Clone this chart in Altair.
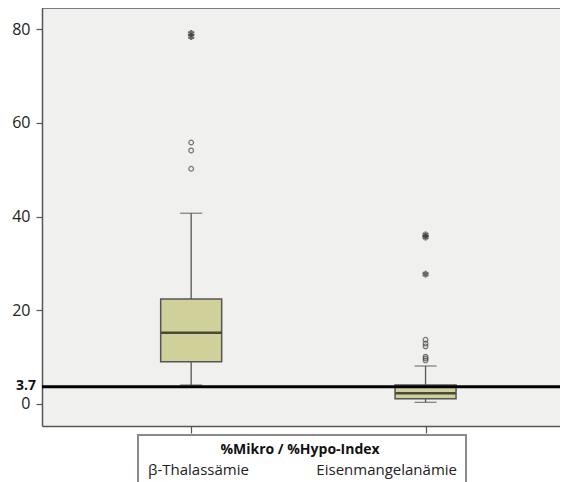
import altair as alt
import pandas as pd

# ---- data ----
groups = ["β-Thalassämie", "Eisenmangelanämie"]
pos = [1, 2]
q1 = [9.0, 1.1]
median = [15.2, 2.3]
q3 = [22.4, 4.05]
whisk_lo = [4.05, 0.35]
whisk_hi = [40.7, 8.1]
outliers_thal = [50.2, 54.1, 55.8]
extremes_thal = [78.4, 79.1]
outliers_eisen = [9.3, 9.7, 10.1, 12.3, 12.9, 13.7]
extremes_eisen = [27.7, 35.6, 36.1]
cutoff = 3.7
legend_title = "%Mikro / %Hypo-Index"
y_ticks = [0, 20, 40, 60, 80]

W, H = 518, 418
FONT = "Open Sans"
BOX_FILL = "#cfd09a"
EDGE = "#555555"

boxes = pd.DataFrame({"group": groups, "pos": pos, "q1": q1, "median": median,
                      "q3": q3, "lo": whisk_lo, "hi": whisk_hi})
outl = pd.DataFrame({
    "pos": [1] * len(outliers_thal) + [2] * len(outliers_eisen),
    "value": outliers_thal + outliers_eisen})
extr = pd.DataFrame({
    "pos": [1] * len(extremes_thal) + [2] * len(extremes_eisen),
    "value": extremes_thal + extremes_eisen})
one = pd.DataFrame({"v": [cutoff]})

xs = alt.Scale(domain=[0.3849, 2.5523], nice=False, zero=False)
ys = alt.Scale(domain=[-4.7, 84.5], nice=False, zero=False)

X = alt.X("pos:Q", scale=xs, axis=alt.Axis(values=[1, 2], labels=False, title=None, grid=False,
                                           tickSize=7, tickColor=EDGE, domainColor=EDGE,
                                           domainWidth=1.5, tickWidth=1.2))
Yaxis = alt.Axis(values=y_ticks, title=None, grid=False, tickSize=6, tickColor=EDGE,
                 domainColor=EDGE, domainWidth=1.5, labelPadding=6, labelFont=FONT,
                 labelFontSize=16, labelColor="#222222", tickWidth=1.2)

base = alt.Chart(boxes)

whisk_low = base.mark_rule(color=EDGE, strokeWidth=1.3).encode(
    x=X, y=alt.Y("lo:Q", scale=ys, axis=Yaxis), y2="q1:Q")
whisk_high = base.mark_rule(color=EDGE, strokeWidth=1.3).encode(
    x=X, y=alt.Y("q3:Q", scale=ys), y2="hi:Q")
cap_low = base.mark_tick(orient="horizontal", size=22, thickness=1.3, color=EDGE).encode(
    x=X, y=alt.Y("lo:Q", scale=ys))
cap_high = base.mark_tick(orient="horizontal", size=22, thickness=1.3, color=EDGE).encode(
    x=X, y=alt.Y("hi:Q", scale=ys))
box = base.mark_bar(size=61, fill=BOX_FILL, stroke=EDGE, strokeWidth=1.5).encode(
    x=X, y=alt.Y("q1:Q", scale=ys), y2="q3:Q")
med = base.mark_tick(orient="horizontal", size=60, thickness=2.5, color="#111111").encode(
    x=X, y=alt.Y("median:Q", scale=ys))

circles = alt.Chart(outl).mark_point(shape="circle", filled=False, size=22, strokeWidth=1.2,
                                     color="#444444").encode(
    x=X, y=alt.Y("value:Q", scale=ys))
stars = alt.Chart(extr).mark_point(
    shape="M0,-1L0,1M-0.87,-0.5L0.87,0.5M-0.87,0.5L0.87,-0.5",
    filled=False, size=45, strokeWidth=2.2, color="#333333").encode(
    x=X, y=alt.Y("value:Q", scale=ys))

ref_line = alt.Chart(one).mark_rule(color="black", strokeWidth=3).encode(
    y=alt.Y("v:Q", scale=ys), x=alt.value(0), x2=alt.value(W + 20))
ref_label = alt.Chart(one).mark_text(text="3.7", font=FONT, fontSize=14, fontWeight="bold",
                                     align="right", baseline="middle", color="#111111", dy=-1).encode(
    y=alt.Y("v:Q", scale=ys), x=alt.value(-6))

top_border = alt.Chart(one).mark_rule(color=EDGE, strokeWidth=1.5).encode(
    y=alt.value(0), x=alt.value(0), x2=alt.value(W + 20))

leg_box = alt.Chart(one).mark_rect(fill="white", stroke="#8a8a8a", strokeWidth=2).encode(
    x=alt.value(96), x2=alt.value(424), y=alt.value(427), y2=alt.value(540))
leg_title = alt.Chart(one).mark_text(text=legend_title, font=FONT, fontSize=14, fontWeight="bold",
                                     align="center", baseline="middle", color="#111111").encode(
    x=alt.value(258), y=alt.value(442))
leg_a = alt.Chart(one).mark_text(text=groups[0], font=FONT, fontSize=15, align="left",
                                 baseline="middle", color="#222222").encode(
    x=alt.value(106), y=alt.value(462))
leg_b = alt.Chart(one).mark_text(text=groups[1], font=FONT, fontSize=15, align="right",
                                 baseline="middle", color="#222222").encode(
    x=alt.value(415), y=alt.value(462))

chart = alt.layer(
    whisk_low, whisk_high, cap_low, cap_high, box, med, circles, stars,
    ref_line, ref_label, top_border, leg_box, leg_title, leg_a, leg_b
).properties(
    width=W, height=H,
    autosize=alt.AutoSizeParams(type="none"),
    padding={"left": 34, "top": 0, "right": 0, "bottom": 56},
    background="white",
).configure_view(stroke=None, fill="#f0f0ee")

chart.save("out.html", embed_options={"renderer": "svg", "actions": False})
